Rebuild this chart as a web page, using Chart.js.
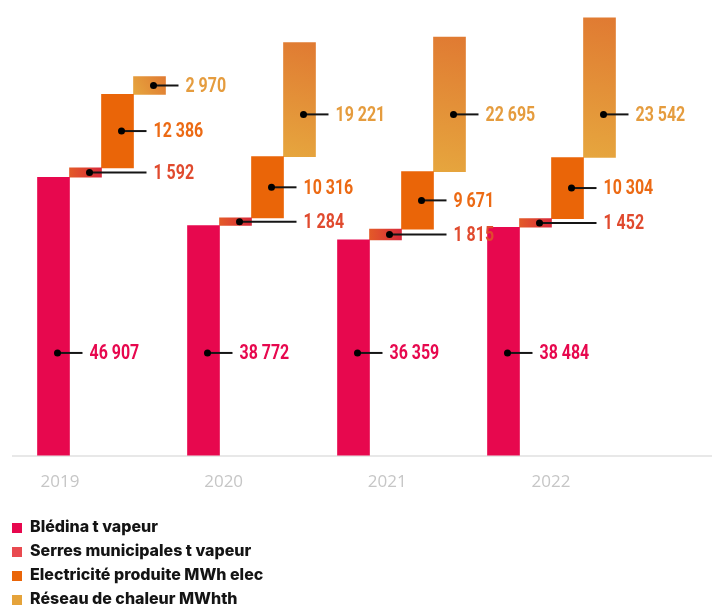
<!DOCTYPE html>
<html>
<head>
<meta charset="utf-8">
<script src="https://cdn.jsdelivr.net/npm/chart.js@4/dist/chart.umd.min.js"></script>
<style>
  body { margin: 0; background: #fff; }
  #wrap { position: relative; width: 712px; height: 608px; overflow: hidden; }
  #box { position: absolute; left: 0; top: 0; width: 712px; height: 521px; }
  #legend { position: absolute; left: 12px; top: 515px; font-family: Inter, "Noto Sans", sans-serif; font-weight: 800; font-size: 16px; color: #141414; }
  #legend div { height: 24px; line-height: 22px; white-space: nowrap; }
  #legend span { display: inline-block; width: 10px; height: 10px; margin-right: 8px; vertical-align: -1px; }
</style>
</head>
<body>
<div id="wrap">
  <div id="box"><canvas id="chart"></canvas></div>
  <div id="legend"></div>
</div>
<script>
// data
const years = [2019, 2020, 2021, 2022];
const bledina = [46907, 38772, 36359, 38484];
const serres = [1592, 1284, 1815, 1452];
const electricite = [12386, 10316, 9671, 10304];
const reseau = [2970, 19221, 22695, 23542];
const seriesNames = ['Blédina t vapeur', 'Serres municipales t vapeur', 'Electricité produite MWh elec', 'Réseau de chaleur MWhth'];

const series = [bledina, serres, electricite, reseau];
const barColors = ['#E7084E', '#DE3F30', '#EA6508', '#E3913A'];
const legendColors = ['#E7084E', '#E94A50', '#EA6508', '#E5A33A'];
const labelColors = ['#E7084E', '#E04A2E', '#EC6A14', '#E59C3E'];

// gradients painted once the bars have their final size
const gradients = {
  1: { dir: 'h', stops: ['#E35A28', '#D82A3B'] },
  3: { dir: 'd', stops: ['#E6A63E', '#E07A32'] }
};

// floating bars: each serie starts where the previous ones end
const datasets = series.map((values, i) => ({
  label: seriesNames[i],
  data: years.map((yr, j) => {
    let start = 0;
    for (let k = 0; k < i; k++) start += series[k][j];
    return { x: yr, y: [start, start + values[j]] };
  }),
  backgroundColor: barColors[i],
  barThickness: 32,
  xAxisID: 'x'
}));

function fmt(v) {
  return String(v).replace(/\B(?=(\d{3})+(?!\d))/g, ' ');
}

const gradientPlugin = {
  id: 'gradientBars',
  beforeDatasetsDraw(chart) {
    const ctx = chart.ctx;
    Object.keys(gradients).forEach(key => {
      const g = gradients[key];
      chart.getDatasetMeta(+key).data.forEach(bar => {
        const { x, y, base, width } = bar.getProps(['x', 'y', 'base', 'width'], true);
        const l = x - width / 2, r = x + width / 2;
        const grad = g.dir === 'h'
          ? ctx.createLinearGradient(l, 0, r, 0)
          : ctx.createLinearGradient(l, base, r, y);
        grad.addColorStop(0, g.stops[0]);
        grad.addColorStop(1, g.stops[1]);
        bar.options = Object.assign({}, bar.options, { backgroundColor: grad });
      });
    });
  }
};

const labelPlugin = {
  id: 'valueLabels',
  afterDatasetsDraw(chart) {
    const ctx = chart.ctx;
    const yScale = chart.scales.y;
    const metas = series.map((s, i) => chart.getDatasetMeta(i));
    ctx.save();
    ctx.font = 'bold 21px Roboto, "DejaVu Sans", sans-serif';
    ctx.textBaseline = 'middle';
    metas.forEach((meta, i) => {
      meta.data.forEach((bar, j) => {
        const anchor = i === 1 ? metas[2].data[j] : bar;
        const textX = anchor.x + anchor.width / 2 + 20;
        let labelY = (bar.y + bar.base) / 2;
        if (i === 0) labelY = yScale.getPixelForValue(17300);
        if (i === 3 && bar.base - bar.y > 60) labelY = yScale.getPixelForValue(57500);
        const dotX = bar.x + 4;
        ctx.strokeStyle = '#151515';
        ctx.lineWidth = 2;
        ctx.beginPath();
        ctx.moveTo(dotX, labelY);
        ctx.lineTo(textX - 7, labelY);
        ctx.stroke();
        ctx.fillStyle = '#000';
        ctx.beginPath();
        ctx.arc(dotX, labelY, 3.5, 0, Math.PI * 2);
        ctx.fill();
        // condensed look: squeeze the text horizontally
        ctx.save();
        ctx.translate(textX, labelY + 1);
        ctx.scale(0.76, 1);
        ctx.fillStyle = labelColors[i];
        ctx.fillText(fmt(series[i][j]), 0, 0);
        ctx.restore();
      });
    });
    ctx.restore();
  }
};

new Chart(document.getElementById('chart'), {
  type: 'bar',
  data: { datasets },
  options: {
    responsive: true,
    maintainAspectRatio: false,
    animation: false,
    layout: { padding: { left: 13, right: 0, top: 7, bottom: 13 } },
    plugins: {
      legend: { display: false },
      tooltip: { enabled: false }
    },
    scales: {
      x: {
        type: 'linear',
        display: false,
        offset: false,
        min: 2018.41,
        max: 2023.07
      },
      xLabels: {
        type: 'linear',
        position: 'bottom',
        offset: false,
        min: 2018.713,
        max: 2022.984,
        afterBuildTicks: s => { s.ticks = years.map(v => ({ value: v })); },
        grid: { display: false, drawTicks: false, offset: false },
        border: { display: true, color: '#E8E8E8', width: 2 },
        ticks: {
          padding: 16,
          color: '#C6C6C6',
          font: { family: '"Open Sans", sans-serif', size: 17 },
          callback: v => String(v)
        }
      },
      y: {
        display: false,
        min: 0,
        max: 75600
      }
    }
  },
  plugins: [gradientPlugin, labelPlugin]
});

// legend
const legend = document.getElementById('legend');
seriesNames.forEach((name, i) => {
  const row = document.createElement('div');
  const sw = document.createElement('span');
  sw.style.background = legendColors[i];
  row.appendChild(sw);
  row.appendChild(document.createTextNode(name));
  legend.appendChild(row);
});
</script>
</body>
</html>
